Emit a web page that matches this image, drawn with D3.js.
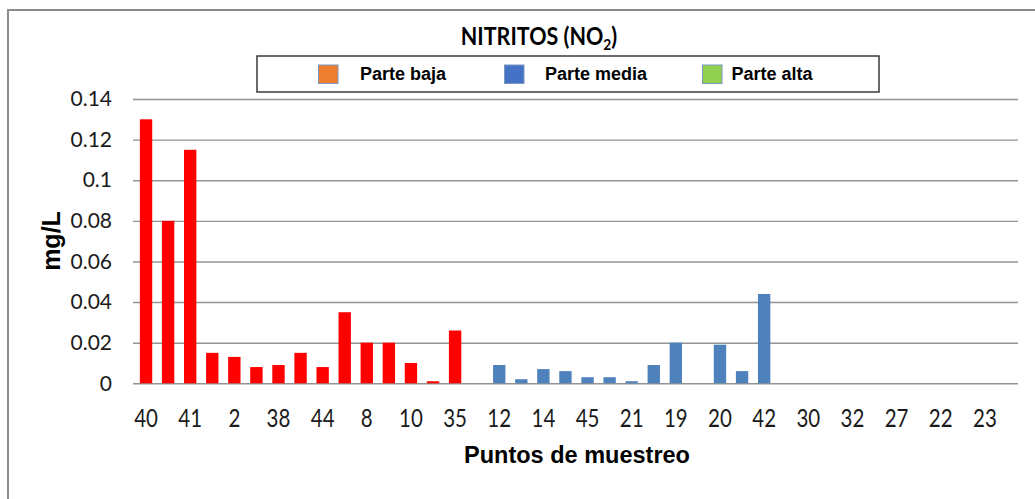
<!DOCTYPE html>
<html>
<head>
<meta charset="utf-8">
<script src="https://cdn.jsdelivr.net/npm/d3@7/dist/d3.min.js"></script>
<style>
  html, body { margin: 0; padding: 0; background: #fff; }
  svg { display: block; }
</style>
</head>
<body>
<svg id="chart" width="1035" height="499"></svg>
<script>
// ---- data ----
const categories = ["40","","41","","2","","38","","44","","8","","10","","35","",
                    "12","","14","","45","","21","","19","","20","","42","",
                    "30","","32","","27","","22","","23",""];
const seriesNames = ["Parte baja", "Parte media", "Parte alta"];
const bajaValues  = [0.13, 0.08, 0.115, 0.015, 0.013, 0.008, 0.009, 0.015, 0.008, 0.035, 0.02, 0.02, 0.01, 0.001, 0.026, 0];
const mediaValues = [0.009, 0.002, 0.007, 0.006, 0.003, 0.003, 0.001, 0.009, 0.02, 0, 0.019, 0.006, 0.044];
const altaValues  = [0, 0, 0, 0, 0, 0, 0, 0, 0, 0, 0];
const yTicks = [0, 0.02, 0.04, 0.06, 0.08, 0.1, 0.12, 0.14];
const legendColors = ["#ED7D31", "#4472C4", "#92D050"];
const barColors = ["#FF0000", "#4F81BD", "#92D050"];

// ---- build rows ----
const seriesValues = [bajaValues, mediaValues, altaValues];
const rows = [];
let idx = 0;
seriesValues.forEach((vals, s) => {
  vals.forEach(v => { rows.push({ i: idx, value: v, series: s }); idx++; });
});

const svg = d3.select("#chart");
svg.append("rect").attr("x", 0).attr("y", 0).attr("width", 1035).attr("height", 499).attr("fill", "#fff");

// frame
svg.append("rect").attr("x", 8).attr("y", 10).attr("width", 1100).attr("height", 600)
  .attr("fill", "none").attr("stroke", "#8c8c8c").attr("stroke-width", 2);

const plotLeft = 135, plotRight = 1018, plotTop = 99, plotBottom = 383.3;

const x = d3.scaleBand()
  .domain(d3.range(categories.length))
  .range([plotLeft, plotRight])
  .paddingInner(0.44)
  .paddingOuter(0.22);

const y = d3.scaleLinear().domain([0, 0.14]).range([plotBottom, plotTop]);

// gridlines
const grid = svg.append("g")
  .attr("transform", `translate(${plotLeft - 2},0)`)
  .call(d3.axisLeft(y).tickValues(yTicks).tickSize(-(plotRight - plotLeft + 2)).tickFormat(""));
grid.select(".domain").remove();
grid.selectAll(".tick line").attr("stroke", "#939393").attr("stroke-width", 1.4);

// y labels
const yAxis = svg.append("g")
  .attr("transform", `translate(112,0)`)
  .call(d3.axisLeft(y).tickValues(yTicks).tickSize(0).tickPadding(0)
        .tickFormat(d => d === 0 ? "0" : String(+d.toFixed(2))));
yAxis.select(".domain").remove();
yAxis.selectAll("text")
  .attr("font-family", "Lato, 'Open Sans', sans-serif")
  .attr("font-size", 21)
  .attr("fill", "#1a1a1a");

// bars
svg.append("g").selectAll("rect")
  .data(rows.filter(d => d.value > 0))
  .join("rect")
  .attr("x", d => x(d.i))
  .attr("width", x.bandwidth())
  .attr("y", d => y(d.value))
  .attr("height", d => y(0) - y(d.value))
  .attr("fill", d => barColors[d.series]);

// x labels
const xAxis = svg.append("g")
  .attr("transform", `translate(0,${plotBottom})`)
  .call(d3.axisBottom(x).tickSize(0).tickPadding(0).tickFormat(i => categories[i]));
xAxis.select(".domain").remove();
xAxis.selectAll("text")
  .attr("dy", null)
  .attr("y", 44)
  .attr("transform", "scale(0.82,1)")
  .attr("font-family", "Lato, 'Open Sans', sans-serif")
  .attr("font-size", 25)
  .attr("fill", "#1a1a1a");

// title
const title = svg.append("text")
  .attr("transform", "translate(539,45) scale(0.86,1)")
  .attr("text-anchor", "middle")
  .attr("font-family", "Lato, 'Open Sans', sans-serif")
  .attr("font-weight", "bold")
  .attr("font-size", 25)
  .attr("fill", "#000");
title.append("tspan").text("NITRITOS (NO");
title.append("tspan").text("2").attr("font-size", 16).attr("dy", 5);
title.append("tspan").text(")").attr("dy", -5);

// legend
svg.append("rect").attr("x", 257).attr("y", 56).attr("width", 622).attr("height", 36)
  .attr("fill", "#fff").attr("stroke", "#3a3a3a").attr("stroke-width", 1.5);
const legendSwatchX = [318.5, 504.5, 702.5];
const legendTextX = [360, 545, 731.5];
seriesNames.forEach((name, k) => {
  svg.append("rect").attr("x", legendSwatchX[k]).attr("y", 65).attr("width", 19.5).attr("height", 18.5)
    .attr("fill", legendColors[k]).attr("stroke", "#7b96bf").attr("stroke-width", 1);
  svg.append("text").attr("x", legendTextX[k]).attr("y", 80)
    .attr("font-family", "'Liberation Sans', Arial, sans-serif")
    .attr("font-weight", "bold").attr("font-size", 18).attr("fill", "#000")
    .text(name);
});

// axis titles
svg.append("text")
  .attr("transform", "translate(60,241) rotate(-90)")
  .attr("text-anchor", "middle")
  .attr("font-family", "'Liberation Sans', Arial, sans-serif")
  .attr("font-weight", "bold").attr("font-size", 25).attr("fill", "#000")
  .text("mg/L");
svg.append("text")
  .attr("x", 577).attr("y", 463)
  .attr("text-anchor", "middle")
  .attr("font-family", "'Liberation Sans', Arial, sans-serif")
  .attr("font-weight", "bold").attr("font-size", 23.5).attr("fill", "#000")
  .text("Puntos de muestreo");
</script>
</body>
</html>
